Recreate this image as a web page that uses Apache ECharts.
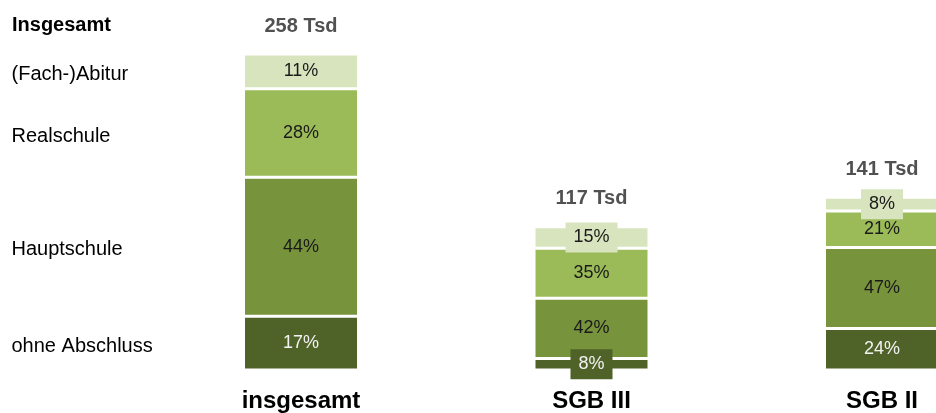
<!DOCTYPE html>
<html>
<head>
<meta charset="utf-8">
<script src="https://cdn.jsdelivr.net/npm/echarts@6/dist/echarts.min.js"></script>
<style>
  html, body { margin: 0; padding: 0; background: #fff; }
  #chart { width: 936px; height: 413px; }
</style>
</head>
<body>
<div id="chart"></div>
<script>
// Kategorien und Gesamtzahlen (Tsd)
var categories = ["insgesamt", "SGB III", "SGB II"];
var totals = [258, 117, 141];

// Anteile je Schulabschluss in %
var groups = ["ohne Abschluss", "Hauptschule", "Realschule", "(Fach-)Abitur"];
var shareOhne = [17, 8, 24];
var shareHaupt = [44, 42, 47];
var shareReal = [28, 35, 21];
var shareAbitur = [11, 15, 8];

var shares = [shareOhne, shareHaupt, shareReal, shareAbitur];
var colors = ["#4f6228", "#77933c", "#9bbb59", "#d7e4bd"];
var textColors = ["#f2f2f2", "#1a1a1a", "#1a1a1a", "#1a1a1a"];
var font = "'Liberation Sans', Arial, sans-serif";

var chart = echarts.init(document.getElementById("chart"));

var series = [];
// gestapelte Balken mit Prozentangaben
shares.forEach(function (share, g) {
  series.push({
    name: groups[g],
    type: "bar",
    stack: "werte",
    barWidth: 115,
    silent: true,
    itemStyle: { color: colors[g], borderColor: "#ffffff", borderWidth: 1.5 },
    label: {
      show: true,
      position: "inside",
      formatter: function (p) { return share[p.dataIndex] + "%"; },
      color: textColors[g],
      fontFamily: font,
      fontSize: 18,
      backgroundColor: colors[g],
      padding: [6, 8]
    },
    data: totals.map(function (t, i) { return t * share[i] / 100; })
  });
});
// unsichtbarer Stapel fuer die Beschriftung links
shares.forEach(function (share, g) {
  series.push({
    name: groups[g],
    type: "bar",
    stack: "namen",
    barWidth: 115,
    silent: true,
    itemStyle: { color: "rgba(0,0,0,0)" },
    label: {
      show: true,
      position: [-232, "50%"],
      offset: [0, 3],
      align: "left",
      verticalAlign: "middle",
      formatter: "{a}",
      color: "#000",
      fontFamily: font,
      fontSize: 20
    },
    data: totals.map(function (t, i) { return i === 0 ? t * share[i] / 100 : "-"; })
  });
});
// Summen oberhalb der Balken
series.push({
  type: "scatter",
  symbolSize: 0,
  silent: true,
  label: {
    show: true,
    position: "top",
    distance: 18,
    formatter: "{c} Tsd",
    color: "#262626",
    fontFamily: font,
    fontWeight: "bold",
    fontSize: 20
  },
  data: totals
});

chart.setOption({
  animation: false,
  title: {
    text: "Insgesamt",
    left: 7,
    top: 10,
    textStyle: { fontFamily: font, fontWeight: "bold", fontSize: 20, color: "#000" }
  },
  grid: { left: 301, right: 54, top: 54, height: 316 },
  xAxis: {
    type: "category",
    data: categories,
    boundaryGap: false,
    axisLine: { show: false },
    axisTick: { show: false },
    axisLabel: {
      margin: 19,
      color: "#000",
      fontFamily: font,
      fontWeight: "bold",
      fontSize: 24
    }
  },
  yAxis: {
    type: "value",
    min: 0,
    max: 258,
    show: false
  },
  barGap: "-100%",
  series: series
});
</script>
</body>
</html>
